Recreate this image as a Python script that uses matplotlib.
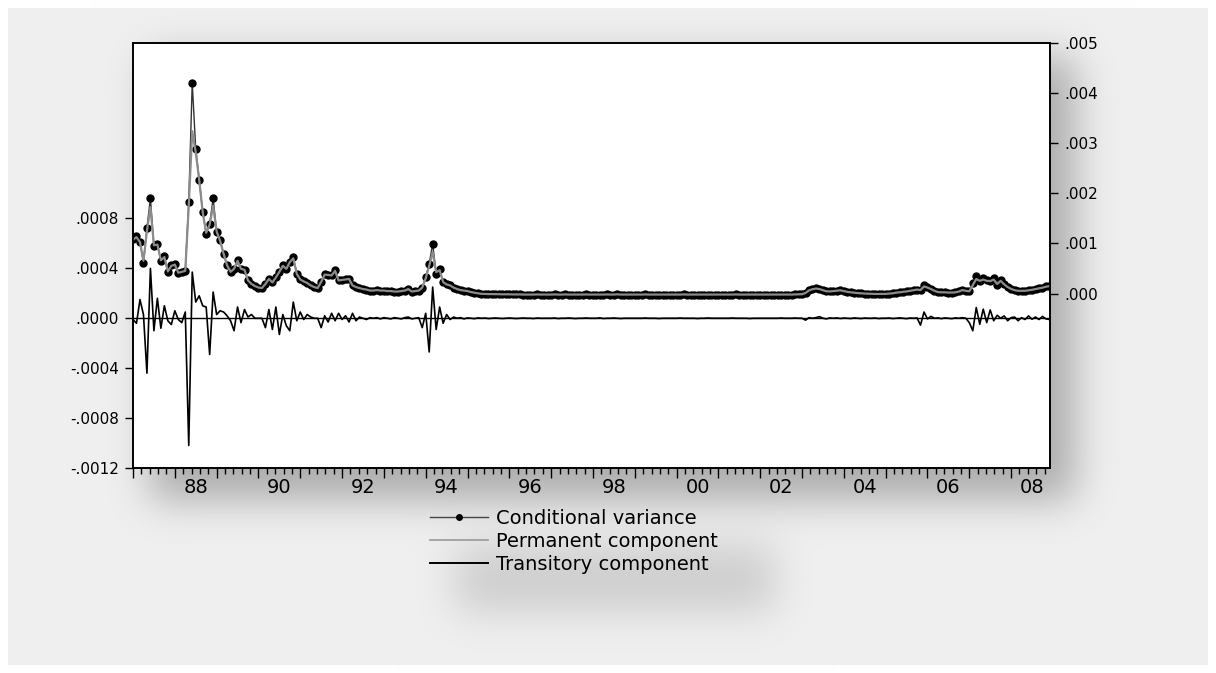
from matplotlib import pyplot as plt
from matplotlib.lines import Line2D
from matplotlib.ticker import MultipleLocator
import numpy as np

years = list(range(1987, 2009))

# monthly values, one row per year (Jan..Dec), in units of 1e-5
cond_var = [
    63.8, 66.2, 61.4, 44.4, 72.3, 96.1, 57.8, 59.4, 45.6, 49.7, 36.8, 42.4,
    43.2, 36.0, 37.2, 38.0, 93.3, 188.7, 135.7, 111.1, 85.2, 67.9, 75.5, 96.1,
    69.1, 62.6, 51.7, 42.4, 37.2, 39.6, 46.5, 39.6, 38.8, 30.3, 27.5, 25.8,
    24.6, 24.2, 27.5, 31.5, 28.7, 32.7, 37.2, 42.4, 39.6, 45.2, 48.9, 35.5,
    31.1, 29.5, 28.3, 26.3, 25.0, 24.2, 29.1, 35.5, 34.7, 34.3, 38.4, 30.3,
    30.7, 31.1, 31.5, 26.3, 25.0, 24.2, 23.4, 23.0, 22.2, 22.2, 22.6, 22.2,
    22.2, 21.8, 21.8, 21.4, 21.4, 21.8, 22.2, 23.4, 21.4, 21.8, 22.2, 24.6,
    32.7, 43.6, 59.8, 35.5, 39.2, 28.7, 27.1, 26.3, 24.6, 23.4, 22.6, 22.2,
    21.8, 21.0, 20.5, 20.0, 19.6, 19.5, 19.4, 19.4, 19.3, 19.3, 19.2, 19.2,
    19.2, 19.1, 19.1, 19.1, 19.0, 19.0, 19.0, 19.0, 19.1, 19.0, 19.0, 19.0,
    19.0, 19.1, 19.0, 19.0, 19.1, 19.0, 19.0, 19.0, 19.0, 19.0, 19.1, 19.0,
    19.0, 19.0, 19.0, 19.0, 19.1, 19.0, 19.0, 19.2, 19.0, 19.0, 19.0, 19.0,
    19.0, 19.0, 19.0, 19.1, 19.0, 19.0, 19.0, 19.0, 19.0, 19.0, 19.0, 19.0,
    19.0, 19.0, 19.1, 19.0, 19.0, 19.0, 19.0, 19.0, 19.0, 19.0, 19.0, 19.0,
    19.0, 19.0, 19.0, 19.0, 19.0, 19.1, 19.0, 19.0, 19.0, 19.0, 19.0, 19.0,
    19.0, 19.0, 19.0, 19.0, 19.0, 19.0, 19.0, 19.0, 19.0, 19.0, 19.1, 19.2,
    19.3, 20.5, 22.5, 23.5, 24.0, 23.5, 22.5, 21.5, 21.5, 21.8, 22.2, 22.5,
    21.8, 21.2, 20.8, 20.5, 20.2, 20.0, 19.8, 19.7, 19.6, 19.5, 19.5, 19.5,
    19.5, 19.8, 20.0, 20.5, 20.8, 21.2, 21.5, 22.0, 22.5, 23.0, 22.5, 27.0,
    25.0, 23.5, 22.0, 21.0, 20.8, 20.8, 20.6, 20.6, 20.8, 21.5, 23.0, 22.0,
    21.5, 28.0, 34.0, 30.0, 32.0, 30.5, 30.0, 32.0, 27.0, 31.0, 27.5, 25.0,
    23.5, 22.5, 22.0, 22.0, 22.0, 22.5, 22.8, 23.5, 24.0, 24.6, 25.5, 26.0,
]

permanent = [
    63.0, 65.0, 61.0, 46.0, 70.0, 89.0, 58.5, 59.0, 46.5, 49.0, 37.5, 42.0,
    43.0, 36.5, 37.2, 38.0, 90.0, 150.0, 133.0, 111.0, 85.0, 68.5, 75.0, 90.0,
    69.5, 62.0, 51.7, 42.4, 37.2, 39.6, 46.0, 39.6, 38.8, 30.3, 27.5, 25.8,
    24.6, 24.2, 27.5, 31.5, 28.7, 32.7, 37.2, 42.0, 39.6, 45.0, 48.0, 35.5,
    31.1, 29.5, 28.3, 26.3, 25.0, 24.2, 29.1, 35.0, 34.7, 34.3, 38.0, 30.3,
    30.7, 31.1, 31.5, 26.3, 25.0, 24.2, 23.4, 23.0, 22.2, 22.2, 22.6, 22.2,
    22.2, 21.8, 21.8, 21.4, 21.4, 21.8, 22.2, 23.4, 21.4, 21.8, 22.2, 24.6,
    32.0, 42.0, 53.0, 37.0, 38.5, 29.0, 27.1, 26.3, 24.6, 23.4, 22.6, 22.2,
    21.8, 21.0, 20.5, 20.0, 19.6, 19.5, 19.4, 19.4, 19.3, 19.3, 19.2, 19.2,
    19.2, 19.1, 19.1, 19.1, 19.0, 19.0, 19.0, 19.0, 19.1, 19.0, 19.0, 19.0,
    19.0, 19.1, 19.0, 19.0, 19.1, 19.0, 19.0, 19.0, 19.0, 19.0, 19.1, 19.0,
    19.0, 19.0, 19.0, 19.0, 19.1, 19.0, 19.0, 19.2, 19.0, 19.0, 19.0, 19.0,
    19.0, 19.0, 19.0, 19.1, 19.0, 19.0, 19.0, 19.0, 19.0, 19.0, 19.0, 19.0,
    19.0, 19.0, 19.1, 19.0, 19.0, 19.0, 19.0, 19.0, 19.0, 19.0, 19.0, 19.0,
    19.0, 19.0, 19.0, 19.0, 19.0, 19.1, 19.0, 19.0, 19.0, 19.0, 19.0, 19.0,
    19.0, 19.0, 19.0, 19.0, 19.0, 19.0, 19.0, 19.0, 19.0, 19.0, 19.1, 19.2,
    19.3, 20.3, 22.3, 23.3, 23.8, 23.4, 22.5, 21.6, 21.5, 21.8, 22.1, 22.4,
    21.8, 21.2, 20.8, 20.5, 20.2, 20.0, 19.8, 19.7, 19.6, 19.5, 19.5, 19.5,
    19.5, 19.8, 20.0, 20.5, 20.8, 21.2, 21.5, 22.0, 22.5, 23.0, 22.6, 25.5,
    24.6, 23.4, 22.0, 21.0, 20.8, 20.8, 20.6, 20.6, 20.8, 21.4, 22.6, 22.0,
    21.6, 26.5, 31.5, 30.0, 31.0, 30.0, 29.8, 31.0, 27.5, 30.0, 27.2, 25.0,
    23.5, 22.5, 22.0, 22.0, 22.0, 22.4, 22.8, 23.4, 24.0, 24.5, 25.3, 25.8,
]

transitory = [
    -1.0, -4.0, 15.0, 3.0, -44.0, 40.0, -10.0, 16.0, -8.0, 10.0, -2.0, -5.0,
    6.0, -1.0, -3.5, 5.0, -102.0, 37.0, 13.0, 18.0, 10.0, 9.0, -29.0, 21.0,
    3.0, 6.0, 5.0, 2.0, -2.0, -10.0, 9.0, -3.5, 7.0, 1.0, 3.0, 0.0,
    0.0, 0.0, -7.5, 7.0, -9.0, 9.0, -13.0, 3.0, -6.0, -10.0, 13.0, -2.0,
    5.0, -1.0, 3.0, 1.0, 0.0, 0.0, -7.5, 2.0, -3.0, 4.0, -2.0, 4.0,
    -1.0, 2.0, -3.0, 4.0, -2.0, 1.0, 0.0, -1.0, 0.5, 0.0, 0.5, -0.5,
    0.5, 0.0, -0.5, 0.5, 0.0, -0.5, 0.5, 1.0, -0.5, 0.0, 0.5, -7.5,
    4.0, -27.0, 25.0, -9.0, 9.0, -4.0, 3.0, -1.0, 1.0, 0.0, 0.5, -0.5,
    0.3, 0.0, -0.3, 0.3, 0.0, 0.2, -0.2, 0.0, 0.2, 0.0, -0.2, 0.0,
    0.2, 0.0, -0.2, 0.0, 0.2, 0.0, 0.0, -0.2, 0.2, 0.0, 0.0, 0.0,
    0.0, 0.2, -0.2, 0.0, 0.0, 0.2, 0.0, -0.2, 0.0, 0.0, 0.2, 0.0,
    0.0, 0.0, 0.3, -0.2, 0.0, 0.0, 0.2, 0.0, -0.2, 0.0, 0.0, 0.0,
    0.0, 0.0, 0.0, 0.2, 0.0, 0.0, 0.0, -0.2, 0.0, 0.0, 0.0, 0.0,
    0.0, 0.2, 0.0, 0.0, 0.0, 0.0, -0.2, 0.0, 0.0, 0.2, 0.0, 0.0,
    0.0, 0.0, 0.0, 0.0, 0.2, 0.0, 0.0, 0.0, 0.0, -0.2, 0.0, 0.0,
    0.0, 0.0, 0.0, 0.0, 0.0, 0.0, 0.2, 0.0, 0.0, 0.0, 0.2, 0.0,
    0.0, -1.5, 0.5, 0.0, 0.5, 1.3, 0.0, -0.5, 0.3, 0.0, 0.3, -0.2,
    0.2, 0.0, -0.2, 0.3, 0.0, -0.2, 0.2, 0.0, 0.0, 0.2, -0.2, 0.0,
    0.0, 0.2, -0.2, 0.0, 0.3, 0.0, -0.3, 0.2, 0.0, 0.3, -5.5, 5.0,
    -0.5, 1.5, 0.0, 0.3, -0.3, 0.3, 0.0, -0.3, 0.3, 0.0, 0.5, 0.0,
    -3.5, -10.0, 8.6, -4.8, 7.3, -3.5, 6.7, -2.0, 2.4, 0.0, 1.9, -2.0,
    0.5, 1.0, -2.0, 0.5, -1.0, 1.9, -0.8, 1.0, -1.0, 1.5, -0.5, -1.0,
]

left_ticks = [-120, -80, -40, 0, 40, 80]
left_labels = ['-.0012', '-.0008', '-.0004', '.0000', '.0004', '.0008']
right_ticks = [0, 1, 2, 3, 4, 5]
right_labels = ['.000', '.001', '.002', '.003', '.004', '.005']
label_years = list(range(1988, 2009, 2))
x_labels = ['88', '90', '92', '94', '96', '98', '00', '02', '04', '06', '08']
legend_labels = ['Conditional variance', 'Permanent component',
                 'Transitory component']

assert len(cond_var) == len(permanent) == len(transitory) == 12 * len(years)
dates = [y + m / 12 for y in years for m in range(12)]

W, H = 1216, 673
fig = plt.figure(figsize=(W / 100, H / 100), dpi=100)

# light grey page with soft drop shadows behind the plot and the legend
bg = np.ones((H, W))
bg[8:H - 8, 8:W - 8] = 0.94
mask = np.zeros((H, W))
mask[58:500, 150:1075] = 1.0
mask[545:612, 455:775] = 0.5

def smooth(a, s):
    k = np.exp(-0.5 * (np.arange(-3 * s, 3 * s + 1) / s) ** 2)
    k /= k.sum()
    a = np.apply_along_axis(np.convolve, 0, a, k, mode='same')
    return np.apply_along_axis(np.convolve, 1, a, k, mode='same')

bg = bg * (1 - 0.28 * smooth(mask, 20))
fig.figimage(np.dstack([bg] * 3), 0, 0, origin='upper', zorder=-10)

ax = fig.add_axes([133 / W, 1 - 468 / H, (1050 - 133) / W, (468 - 43) / H])
ax.set_facecolor('white')

ax.axhline(0, color='black', lw=1.0, zorder=1)
ax.plot(dates, transitory, color='black', lw=1.2, zorder=2)
ax.plot(dates, cond_var, color='#333333', lw=1.0, marker='o', markersize=5,
        mfc='black', mec='black', zorder=3)
ax.plot(dates, permanent, color='#8c8c8c', lw=1.6, zorder=4)

ax.set_xlim(1987, 2008.93)
ax.set_ylim(-120, 220.6)
ax.set_yticks(left_ticks, left_labels)
ax.xaxis.set_major_locator(MultipleLocator(1))
ax.xaxis.set_minor_locator(MultipleLocator(0.2))
ax.tick_params(axis='x', which='major', direction='out', length=7, width=1,
               labelbottom=False)
ax.tick_params(axis='x', which='minor', direction='out', length=4, width=1)
ax.tick_params(axis='y', direction='out', length=6, width=1, pad=4,
               labelsize=11)
for sp in ax.spines.values():
    sp.set_linewidth(1.2)

sec = ax.secondary_xaxis('bottom')
sec.set_xticks([y + 0.5 for y in label_years], x_labels)
sec.tick_params(length=0, pad=7, labelsize=14)
sec.spines['bottom'].set_visible(False)

ax2 = ax.twinx()
ax2.set_ylim(-3.48, 5.0)
ax2.set_yticks(right_ticks, right_labels)
ax2.tick_params(axis='y', direction='out', length=6, width=1, pad=4,
                labelsize=11)
for sp in ax2.spines.values():
    sp.set_linewidth(1.2)

handles = [
    Line2D([], [], color='#444444', lw=1.0, marker='o', markersize=4,
           mfc='black', mec='black'),
    Line2D([], [], color='#999999', lw=1.2),
    Line2D([], [], color='black', lw=1.4),
]
fig.legend(handles, legend_labels, loc='upper left',
           bbox_to_anchor=(430 / W, 1 - 509 / H), frameon=False, fontsize=14,
           numpoints=1, handlelength=3.0, handletextpad=0.4,
           labelspacing=0.2, borderpad=0, borderaxespad=0)

plt.savefig('out.png', dpi=100)
